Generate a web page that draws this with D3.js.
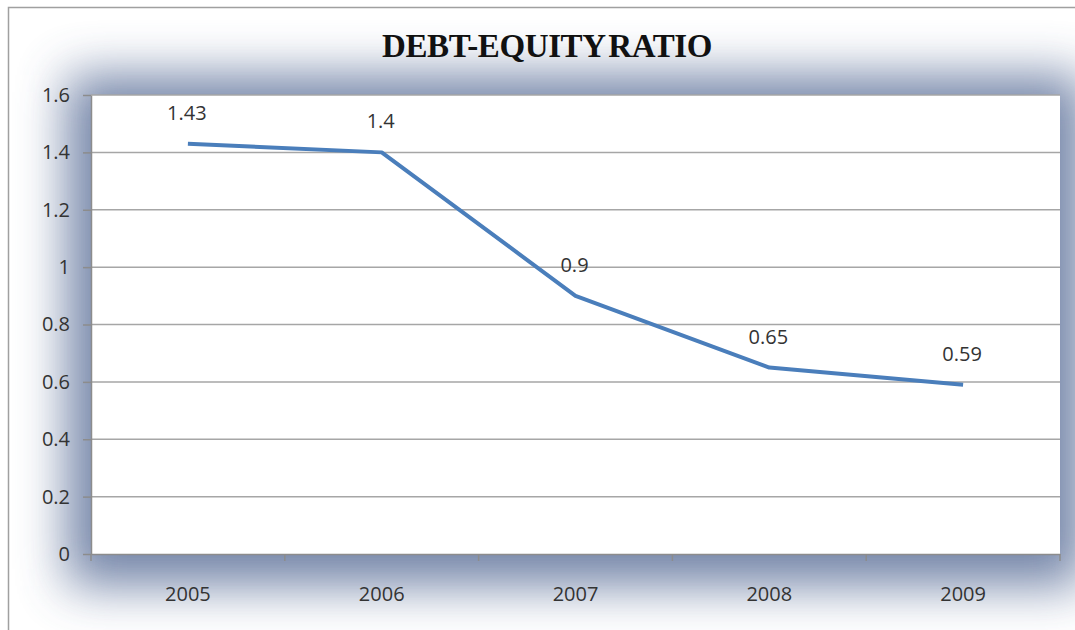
<!DOCTYPE html>
<html>
<head>
<meta charset="utf-8">
<script src="https://cdn.jsdelivr.net/npm/d3@7/dist/d3.min.js"></script>
<style>
  html, body { margin: 0; padding: 0; background: #fff; }
  svg { display: block; }
</style>
</head>
<body>
<svg id="chart" width="1075" height="630"></svg>
<script>
// Debt-equity ratio by year
const years = ["2005", "2006", "2007", "2008", "2009"];
const ratios = [1.43, 1.4, 0.9, 0.65, 0.59];
const yTicks = [0, 0.2, 0.4, 0.6, 0.8, 1, 1.2, 1.4, 1.6];
const title = "DEBT-EQUITY RATIO";

const W = 1075, H = 630;
const plot = { left: 91, right: 1060, top: 95, bottom: 554 };
const labelFont = "'Open Sans', sans-serif";

const svg = d3.select("#chart");
const defs = svg.append("defs");

// soft blue glow around the plot area
const f = defs.append("filter").attr("id", "glow")
  .attr("x", "-20%").attr("y", "-30%").attr("width", "140%").attr("height", "160%");
f.append("feGaussianBlur").attr("stdDeviation", 25);

svg.append("rect").attr("width", W).attr("height", H).attr("fill", "#fff");

svg.append("rect")
  .attr("x", plot.left - 24).attr("y", plot.top - 20)
  .attr("width", plot.right - plot.left + 48).attr("height", plot.bottom - plot.top + 52)
  .attr("fill", "#5b6f99").attr("opacity", 0.85)
  .attr("filter", "url(#glow)");

// outer frame
svg.append("path")
  .attr("d", `M8.5,${H} V7.5 H${W}`)
  .attr("fill", "none").attr("stroke", "#a0a0a0").attr("stroke-width", 1.5);

const x = d3.scaleBand().domain(years).range([plot.left, plot.right]);
const y = d3.scaleLinear().domain([0, 1.6]).range([plot.bottom, plot.top]);

// plot background
svg.append("rect")
  .attr("x", plot.left).attr("y", plot.top)
  .attr("width", plot.right - plot.left).attr("height", plot.bottom - plot.top)
  .attr("fill", "#fff");

// gridlines
svg.append("g")
  .selectAll("line").data(yTicks.filter(d => d > 0)).join("line")
  .attr("x1", plot.left).attr("x2", plot.right)
  .attr("y1", d => y(d)).attr("y2", d => y(d))
  .attr("stroke", "#a6a6a6").attr("stroke-width", 1.5);

// y axis
const yAxis = svg.append("g")
  .attr("transform", `translate(${plot.left},0)`)
  .call(d3.axisLeft(y).tickValues(yTicks).tickFormat(d3.format("~g")).tickSizeInner(8).tickSizeOuter(0).tickPadding(13));
yAxis.select(".domain").attr("stroke", "#8c8c8c").attr("stroke-width", 1.5);
yAxis.selectAll(".tick line").attr("stroke", "#8c8c8c").attr("stroke-width", 1.5);
yAxis.selectAll("text")
  .attr("font-family", labelFont).attr("font-size", 20).attr("fill", "#333");

// x axis
const xAxis = svg.append("g")
  .attr("transform", `translate(0,${plot.bottom})`)
  .call(d3.axisBottom(x).tickSize(0).tickPadding(33));
xAxis.select(".domain").attr("stroke", "#8c8c8c").attr("stroke-width", 1.5);
xAxis.selectAll("text")
  .attr("font-family", labelFont).attr("font-size", 20).attr("fill", "#333");
// category boundary ticks
xAxis.append("g").selectAll("line")
  .data(years.map(d => x(d)).concat([plot.right]))
  .join("line")
  .attr("x1", d => d).attr("x2", d => d).attr("y1", 0).attr("y2", 7)
  .attr("stroke", "#8c8c8c").attr("stroke-width", 1.5);

// ratio line
const line = d3.line()
  .x((d, i) => x(years[i]) + x.bandwidth() / 2)
  .y(d => y(d));
svg.append("path")
  .datum(ratios)
  .attr("d", line)
  .attr("fill", "none").attr("stroke", "#4a7ebb").attr("stroke-width", 4)
  .attr("stroke-linejoin", "round");

// value labels
svg.append("g").selectAll("text").data(ratios).join("text")
  .attr("x", (d, i) => x(years[i]) + x.bandwidth() / 2 - 1)
  .attr("y", d => y(d) - 24)
  .attr("text-anchor", "middle")
  .attr("font-family", labelFont).attr("font-size", 20).attr("fill", "#333")
  .text(d => d);

// title
svg.append("text")
  .attr("x", 547).attr("y", 57)
  .attr("text-anchor", "middle")
  .attr("font-family", "'Liberation Serif', 'Times New Roman', serif")
  .attr("font-weight", "bold").attr("font-size", 33).attr("letter-spacing", -0.4)
  .attr("word-spacing", -4)
  .attr("fill", "#111")
  .text(title);
</script>
</body>
</html>
